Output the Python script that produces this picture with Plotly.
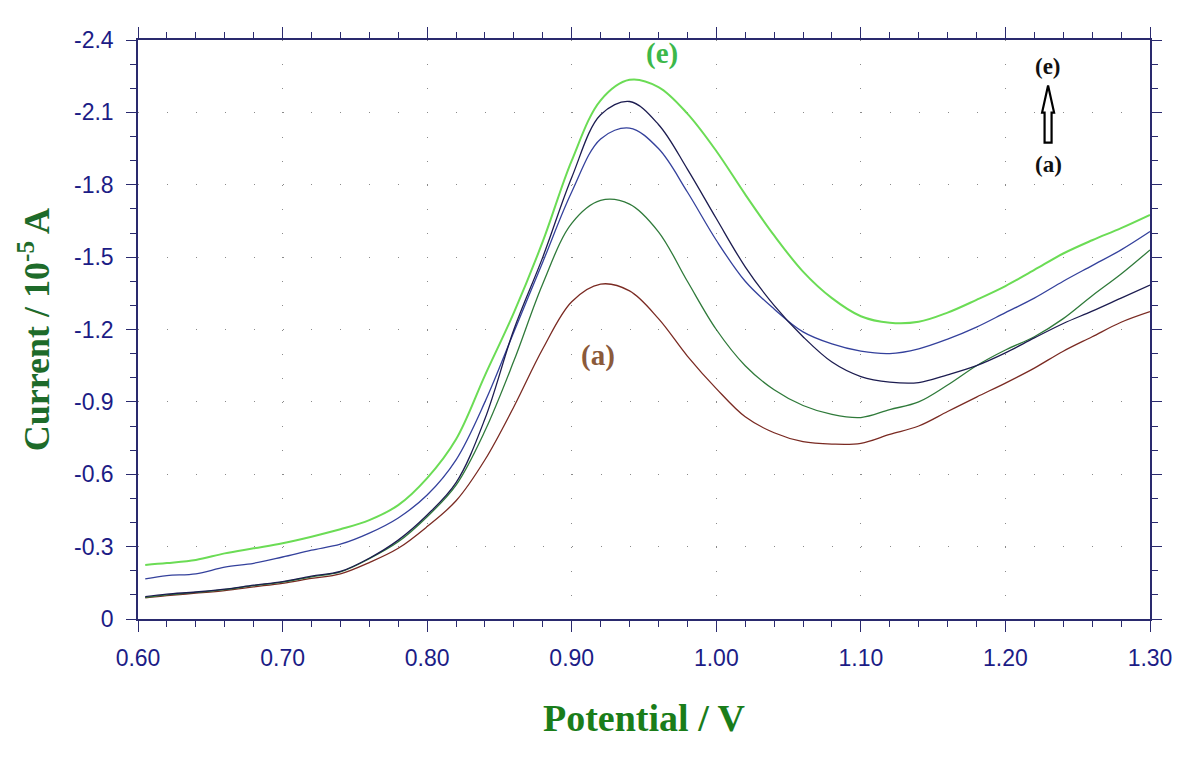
import plotly.graph_objects as go

# Potential (V)
potential = [0.605, 0.62, 0.64, 0.66, 0.68, 0.70, 0.72, 0.74, 0.76, 0.78, 0.80,
             0.82, 0.84, 0.86, 0.88, 0.90, 0.92, 0.94, 0.96, 0.98, 1.00,
             1.02, 1.04, 1.06, 1.08, 1.10, 1.12, 1.14, 1.16, 1.18, 1.20,
             1.22, 1.24, 1.26, 1.28, 1.30]

# Current (10^-5 A)
curve_a = [-0.088, -0.097, -0.107, -0.118, -0.133, -0.148, -0.168, -0.187, -0.234, -0.293, -0.383,
           -0.49, -0.66, -0.88, -1.12, -1.315, -1.388, -1.36, -1.245, -1.09, -0.955,
           -0.838, -0.772, -0.735, -0.725, -0.728, -0.765, -0.80, -0.86, -0.92, -0.978,
           -1.04, -1.11, -1.17, -1.23, -1.274]
curve_b = [-0.090, -0.100, -0.110, -0.122, -0.138, -0.153, -0.175, -0.195, -0.250, -0.320, -0.424,
           -0.555, -0.78, -1.07, -1.39, -1.64, -1.735, -1.72, -1.605, -1.40, -1.20,
           -1.05, -0.95, -0.885, -0.848, -0.835, -0.868, -0.90, -0.97, -1.05, -1.115,
           -1.17, -1.245, -1.34, -1.43, -1.53]
curve_c = [-0.166, -0.180, -0.187, -0.215, -0.231, -0.257, -0.285, -0.310, -0.356, -0.419, -0.514,
           -0.66, -0.90, -1.19, -1.48, -1.77, -1.99, -2.035, -1.95, -1.77, -1.57,
           -1.40, -1.285, -1.19, -1.14, -1.11, -1.10, -1.12, -1.16, -1.21, -1.27,
           -1.33, -1.40, -1.465, -1.53, -1.606]
curve_d = [-0.093, -0.103, -0.112, -0.124, -0.140, -0.155, -0.178, -0.197, -0.252, -0.327, -0.431,
           -0.565, -0.83, -1.20, -1.50, -1.83, -2.09, -2.145, -2.05, -1.865, -1.66,
           -1.46, -1.30, -1.17, -1.065, -1.005, -0.982, -0.98, -1.012, -1.05, -1.103,
           -1.165, -1.225, -1.276, -1.33, -1.384]
curve_e = [-0.224, -0.232, -0.245, -0.272, -0.293, -0.314, -0.341, -0.372, -0.410, -0.472, -0.584,
           -0.745, -1.01, -1.27, -1.565, -1.90, -2.15, -2.235, -2.205, -2.095, -1.94,
           -1.76, -1.59, -1.44, -1.33, -1.255, -1.228, -1.232, -1.27, -1.323, -1.38,
           -1.447, -1.515, -1.57, -1.62, -1.675]

series_names = ["(a)", "(b)", "(c)", "(d)", "(e)"]
series_values = [curve_a, curve_b, curve_c, curve_d, curve_e]
series_colors = ["#7a2a22", "#2f7a3a", "#34419c", "#1c1c50", "#6bdc55"]
series_widths = [1.3, 1.3, 1.3, 1.3, 2.0]

x_ticks = [0.60, 0.70, 0.80, 0.90, 1.00, 1.10, 1.20, 1.30]
x_ticklabels = ["0.60", "0.70", "0.80", "0.90", "1.00", "1.10", "1.20", "1.30"]
y_ticks = [-2.4, -2.1, -1.8, -1.5, -1.2, -0.9, -0.6, -0.3, 0]
y_ticklabels = ["-2.4", "-2.1", "-1.8", "-1.5", "-1.2", "-0.9", "-0.6", "-0.3", "0"]

fig = go.Figure()
for name, vals, col, w in zip(series_names, series_values, series_colors, series_widths):
    fig.add_trace(go.Scatter(x=potential, y=vals, mode="lines", name=name,
                             line=dict(color=col, width=w, shape="spline", smoothing=1.0),
                             showlegend=False))

axis_col = "#2a2a6e"
tick_font = dict(family="Liberation Sans, Arial, sans-serif", size=23, color="#1c1c86")

fig.update_xaxes(range=[0.60, 1.30], tickvals=x_ticks, ticktext=x_ticklabels,
                 ticks="outside", ticklen=11, tickwidth=1.2, tickcolor=axis_col,
                 showline=True, linecolor=axis_col, linewidth=1.5, mirror="allticks",
                 minor=dict(dtick=0.02, ticks="outside", ticklen=6, tickcolor=axis_col, tickwidth=1.2, showgrid=False),
                 showgrid=True, gridcolor="#8a8a8a", gridwidth=1, griddash="1px,23.125px",
                 zeroline=False, tickfont=tick_font, ticklabelstandoff=7)
fig.update_yaxes(range=[0, -2.4], tickvals=y_ticks, ticktext=y_ticklabels,
                 ticks="outside", ticklen=10, tickwidth=1.2, tickcolor=axis_col,
                 showline=True, linecolor=axis_col, linewidth=1.5, mirror="allticks",
                 minor=dict(dtick=0.1, ticks="outside", ticklen=6, tickcolor=axis_col, tickwidth=1.2, showgrid=False),
                 showgrid=True, gridcolor="#8a8a8a", gridwidth=1, griddash="1px,27.914px",
                 zeroline=False, tickfont=tick_font, ticklabelstandoff=8)

title_font = dict(family="Liberation Serif, Times New Roman, serif", size=38, color="#1a7d1a")
annotations = [
    dict(text="<b>Potential / V</b>", xref="paper", yref="paper", x=0.5, y=-0.171,
         xanchor="center", yanchor="middle", showarrow=False, font=title_font),
    dict(text="<b>Current / 10<sup>-5</sup> A</b>", xref="paper", yref="paper", x=-0.102, y=0.5,
         xanchor="center", yanchor="middle", textangle=-90, showarrow=False,
         font=dict(family="Liberation Serif, Times New Roman, serif", size=36, color="#1e6b2a")),
    dict(text="<b>(e)</b>", xref="x", yref="y", x=0.9625, y=-2.345, showarrow=False,
         font=dict(family="Liberation Serif, serif", size=29, color="#3cb84a")),
    dict(text="<b>(a)</b>", xref="x", yref="y", x=0.918, y=-1.094, showarrow=False,
         font=dict(family="Liberation Serif, serif", size=29, color="#8b5a3a")),
    dict(text="<b>(e)</b>", xref="x", yref="y", x=1.2295, y=-2.29, showarrow=False,
         font=dict(family="Liberation Serif, serif", size=23, color="#111111")),
    dict(text="<b>(a)</b>", xref="x", yref="y", x=1.2295, y=-1.885, showarrow=False,
         font=dict(family="Liberation Serif, serif", size=23, color="#111111")),
]

shapes = [
    dict(type="path", xref="x", yref="y", xsizemode="pixel", ysizemode="pixel",
         xanchor=1.2295, yanchor=-1.975,
         path="M -3.5,0 L 3.5,0 L 3.5,30 L 6,30 L 0,57 L -6,30 L -3.5,30 Z",
         line=dict(color="#000000", width=2.2), fillcolor="#ffffff"),
]

fig.update_layout(width=1188, height=771, margin=dict(l=138, r=38, t=40, b=152),
                  paper_bgcolor="white", plot_bgcolor="white",
                  annotations=annotations, shapes=shapes)

fig.write_html("out.html")
